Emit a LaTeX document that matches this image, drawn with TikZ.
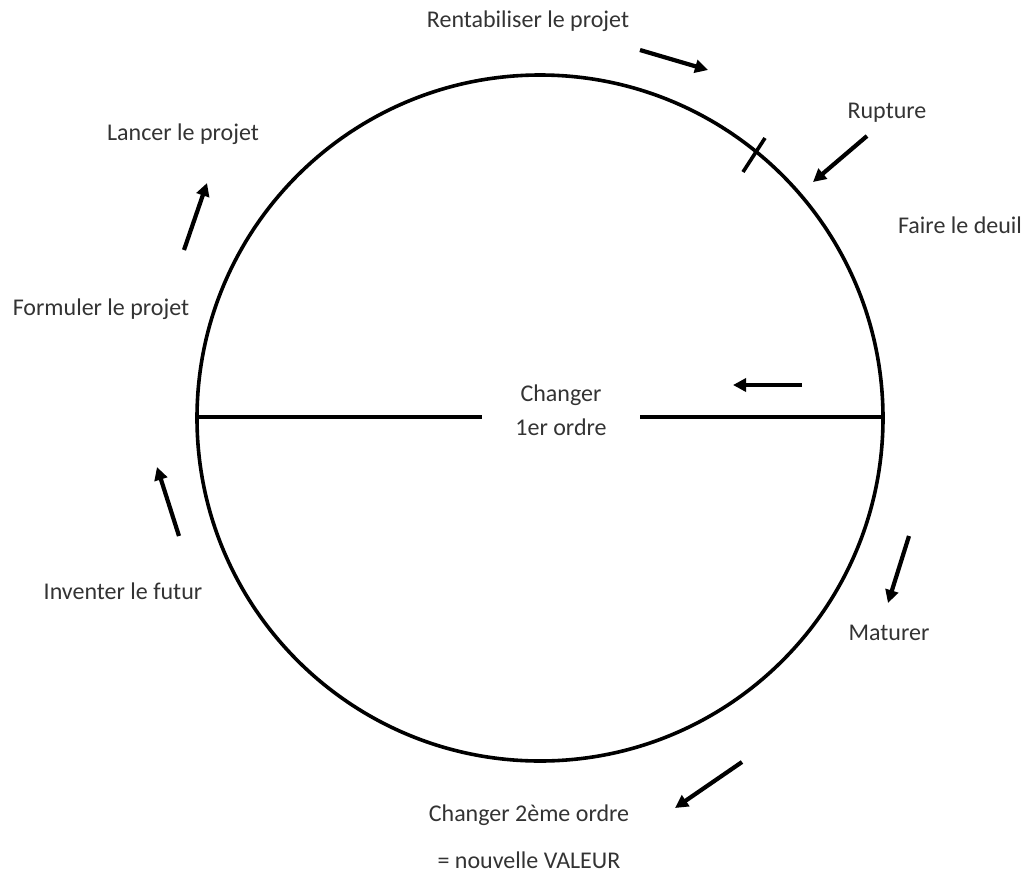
\documentclass[tikz,border=0pt]{standalone}
\usepackage{fontspec}
\setmainfont{Carlito}
\usetikzlibrary{arrows.meta}

\tikzset{
  lbl/.style={text=black!80, font=\fontsize{24}{34}\selectfont, inner sep=0pt},
  stage/.style={line width=4.2pt, -{Triangle[length=13pt,width=13pt]}},
}

\begin{document}
\begin{tikzpicture}[x=1pt,y=-1pt]
\useasboundingbox (0,0) rectangle (1029,879);

% the cycle
\draw[line width=3.6pt] (540,418) circle[radius=343pt];

% first order split
\draw[line width=3.6pt] (197,417) -- (482,417);
\draw[line width=3.6pt] (640,417) -- (883,417);
\node[lbl, align=center] (ordre1) at (561,410) {Changer\\1er ordre};
\draw[stage] (802,385) -- (733,385);

% break mark
\draw[line width=3.6pt] (765,138) -- (743,172);

% labels round the cycle
\node[lbl] (renta) at (528,21) {Rentabiliser le projet};
\node[lbl] (rupt) at (887,113) {Rupture};
\node[lbl] (deuil) at (960,225) {Faire le deuil};
\node[lbl] (matur) at (889,633) {Maturer};
\node[lbl] (ordre2) at (529,815) {Changer 2ème ordre};
\node[lbl] (valeur) at (529,860) {= nouvelle VALEUR};
\node[lbl] (invent) at (123,591) {Inventer le futur};
\node[lbl] (formul) at (101,309) {Formuler le projet};
\node[lbl] (lancer) at (183,134) {Lancer le projet};

% direction of travel
\draw[stage] (640,50) -- (708,70);
\draw[stage] (867,136) -- (813,182);
\draw[stage] (909,536) -- (888,603);
\draw[stage] (742,762) -- (675,808);
\draw[stage] (179,536) -- (157,467);
\draw[stage] (184,250) -- (207,183);

\end{tikzpicture}
\end{document}
